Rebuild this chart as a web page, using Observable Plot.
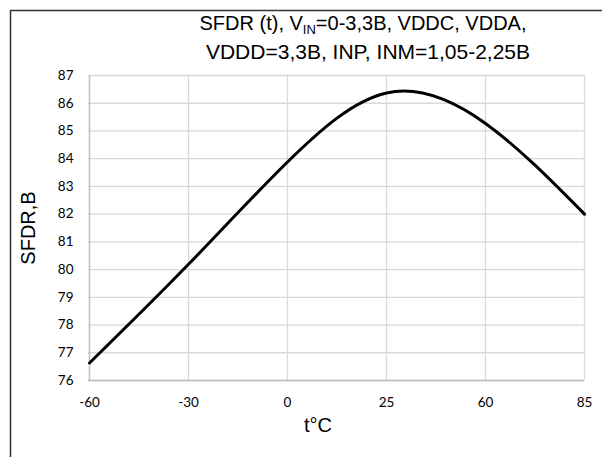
<!DOCTYPE html>
<html>
<head>
<meta charset="utf-8">
<script src="https://cdn.jsdelivr.net/npm/d3@7"></script>
<script src="https://cdn.jsdelivr.net/npm/@observablehq/plot@0.6"></script>
<style>
  html, body { margin: 0; padding: 0; background: #fff; }
  #chart { position: relative; width: 602px; height: 457px; }
</style>
</head>
<body>
<div id="chart"></div>
<script>
// Data
const temps = ["-60", "-30", "0", "25", "60", "85"];
const sfdr = [76.63, 80.19, 83.88, 86.37, 85.27, 82.0];
const yTicks = [76, 77, 78, 79, 80, 81, 82, 83, 84, 85, 86, 87];
const titleLine1 = ["SFDR (t), V", "IN", "=0-3,3B, VDDC, VDDA,"];
const titleLine2 = "VDDD=3,3B, INP, INM=1,05-2,25B";
const xLabel = "t°C";
const yLabel = "SFDR,B";

const data = temps.map((t, i) => ({t, v: sfdr[i]}));
const grid = "#d9d9d9";

const plot = Plot.plot({
  width: 602,
  height: 457,
  marginLeft: 88,
  marginRight: 18,
  marginTop: 75,
  marginBottom: 77,
  style: {fontFamily: "Lato, sans-serif", fontSize: "13.5px", color: "#000", background: "#fff", overflow: "visible"},
  x: {type: "point", domain: temps, padding: 0, label: null},
  y: {domain: [76, 87], label: null},
  marks: [
    Plot.gridX(temps, {stroke: grid, strokeOpacity: 1, strokeWidth: 1.3}),
    Plot.gridY(yTicks, {stroke: grid, strokeOpacity: 1, strokeWidth: 1.3}),
    Plot.ruleY([76], {stroke: "#bfbfbf", strokeWidth: 1.3}),
    Plot.ruleX([temps[0]], {stroke: "#bfbfbf", strokeWidth: 1.3}),
    Plot.axisX(temps, {tickSize: 0, tickPadding: 17, label: null, fill: "#000"}),
    Plot.axisY(yTicks, {tickSize: 0, tickPadding: 15, label: null, fill: "#000"}),
    Plot.line(data, {x: "t", y: "v", curve: "natural", stroke: "#000", strokeWidth: 3})
  ]
});

document.getElementById("chart").appendChild(plot);

const svg = d3.select(plot);
const font = "'Liberation Sans', Arial, sans-serif";

// outer frame (left and top border)
svg.append("line").attr("x1", 10.5).attr("y1", 10).attr("x2", 10.5).attr("y2", 457)
  .attr("stroke", "#333").attr("stroke-width", 1.5);
svg.append("line").attr("x1", 10).attr("y1", 10.5).attr("x2", 602).attr("y2", 10.5)
  .attr("stroke", "#333").attr("stroke-width", 1.5);

// title
const t1 = svg.append("text").attr("x", 363).attr("y", 30)
  .attr("text-anchor", "middle").attr("font-family", font).attr("font-size", 20).attr("fill", "#000");
t1.append("tspan").text(titleLine1[0]);
t1.append("tspan").attr("font-size", 13).attr("dy", 4).text(titleLine1[1]);
t1.append("tspan").attr("dy", -4).text(titleLine1[2]);
svg.append("text").attr("x", 368).attr("y", 59)
  .attr("text-anchor", "middle").attr("font-family", font).attr("font-size", 21).attr("fill", "#000")
  .text(titleLine2);

// axis titles
svg.append("text").attr("x", 318).attr("y", 432)
  .attr("text-anchor", "middle").attr("font-family", font).attr("font-size", 20).attr("fill", "#000")
  .text(xLabel);
svg.append("text").attr("transform", "translate(35,228) rotate(-90)")
  .attr("text-anchor", "middle").attr("font-family", font).attr("font-size", 20).attr("fill", "#000")
  .text(yLabel);
</script>
</body>
</html>
